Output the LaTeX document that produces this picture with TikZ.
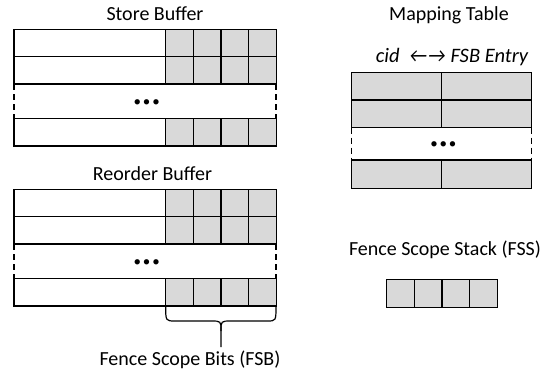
\documentclass[tikz,border=0pt]{standalone}
\usepackage{fontspec}
\setmainfont{Carlito}
\definecolor{cellgray}{HTML}{D9D9D9}
\newcommand{\onedot}{\makebox[9.3pt]{•}}
\tikzset{
  ln/.style={line width=1.2pt, draw=black},
  cell/.style={ln, fill=cellgray},
  dsh/.style={ln, dash pattern=on 6pt off 4pt},
  lbl/.style={anchor=base, inner sep=0pt, font=\fontsize{20}{22}\selectfont},
  dots/.style={inner sep=0pt, font=\fontsize{15}{17}\selectfont}
}
\begin{document}
\begin{tikzpicture}[x=1pt,y=-1pt]
\useasboundingbox (0,0) rectangle (555,373);
% ---------- Store Buffer and Reorder Buffer ----------
\foreach \s/\nm in {0/sb,160/rob}{
  \begin{scope}[yshift=-\s pt]
    \foreach \a/\b in {29.3/56.7, 56.7/84, 118.3/146}{
      \draw[ln] (14,\a) rectangle (165.7,\b);
      \foreach \x in {165.7,193.3,221,248.7}
        \draw[cell] (\x,\a) rectangle (\x+27.6,\b);
    }
    \draw[dsh] (14,84) -- (14,118.3);
    \draw[dsh] (276,84) -- (276,118.3);
    \node[dots] (\nm dots) at (146.7,103.3) {\onedot\onedot\onedot};
  \end{scope}
}
\node[lbl] (sbtitle) at (155,20.7) {Store Buffer};
\node[lbl] (robtitle) at (152.5,180) {Reorder Buffer};
% brace
\draw[ln] (165.7,306) .. controls (165.7,321) and (165.7,321) .. (175,321) -- (211,321)
  .. controls (221,321) and (221,321) .. (221,331) -- (221,347);
\draw[ln] (276,306) .. controls (276,321) and (276,321) .. (267,321) -- (231,321)
  .. controls (221,321) and (221,321) .. (221,331);
\node[lbl] (fsb) at (190,365) {Fence Scope Bits (FSB)};
% ---------- Mapping Table ----------
\node[lbl] (mttitle) at (449,20.7) {Mapping Table};
\node[lbl, font=\fontsize{20.5}{22}\selectfont] (mthead) at (452,62.7) {\itshape cid\ \ ←→ FSB Entry};
\foreach \a/\b in {72.7/100, 100/127.7, 160/188.3}{
  \draw[cell] (351.7,\a) rectangle (441.7,\b);
  \draw[cell] (441.7,\a) rectangle (531.7,\b);
}
\draw[dsh] (351.7,127.7) -- (351.7,160);
\draw[dsh] (531.7,127.7) -- (531.7,160);
\node[dots] (mtdots) at (443.3,145) {\onedot\onedot\onedot};
% ---------- Fence Scope Stack ----------
\node[lbl] (fsstitle) at (445,255) {Fence Scope Stack (FSS)};
\foreach \x in {386.7,414.3,442,469.7}
  \draw[cell] (\x,279.3) rectangle (\x+27.6,307.3);
\end{tikzpicture}
\end{document}
